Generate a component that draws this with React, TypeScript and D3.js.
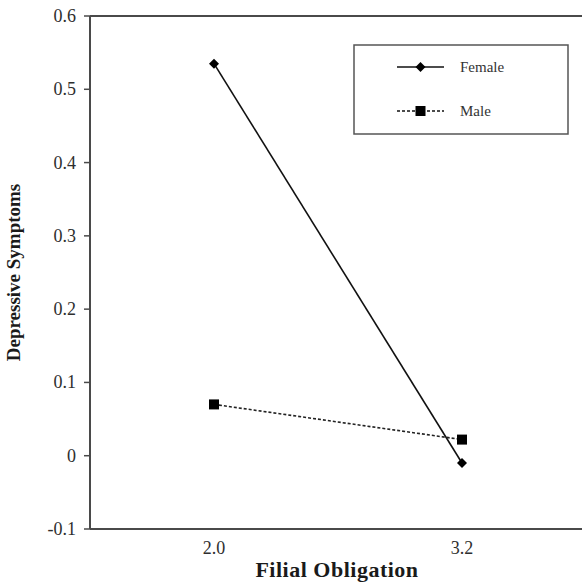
import * as d3 from "d3";

const categories = ["2.0", "3.2"];
const female = [0.535, -0.01];
const male = [0.07, 0.022];
const yTicks = [-0.1, 0, 0.1, 0.2, 0.3, 0.4, 0.5, 0.6];
const seriesNames = ["Female", "Male"];

const W = 582;
const H = 586;
const MARGIN = { top: 16, right: -4, bottom: 57, left: 90 };
const FONT = "'Liberation Serif', 'Times New Roman', serif";

export default function App() {
  const x = d3
    .scalePoint<string>()
    .domain(categories)
    .range([MARGIN.left, W - MARGIN.right])
    .padding(0.5);
  const y = d3.scaleLinear().domain([-0.1, 0.6]).range([H - MARGIN.bottom, MARGIN.top]);

  const line = d3
    .line<number>()
    .x((_, i) => x(categories[i]) as number)
    .y((d) => y(d));

  const axisColor = "#4a4a4a";

  const lx = 397;
  const lw = 47;
  const legendY = [67, 111];

  const diamond = (cx: number, cy: number, r: number) =>
    `M${cx},${cy - r}L${cx + r},${cy}L${cx},${cy + r}L${cx - r},${cy}Z`;

  return (
    <svg width={W} height={H} style={{ position: "absolute", left: 0, top: 0, background: "#fff" }}>
      {/* frame */}
      <line x1={MARGIN.left} x2={W + 10} y1={y(0.6)} y2={y(0.6)} stroke={axisColor} strokeWidth={2} />
      <line x1={MARGIN.left} x2={W + 10} y1={y(-0.1)} y2={y(-0.1)} stroke={axisColor} strokeWidth={2} />
      <line x1={MARGIN.left} x2={MARGIN.left} y1={y(0.6)} y2={y(-0.1)} stroke={axisColor} strokeWidth={2} />

      {yTicks.map((t) => (
        <g key={t}>
          <line x1={MARGIN.left - 6} x2={MARGIN.left} y1={y(t)} y2={y(t)} stroke={axisColor} strokeWidth={1.5} />
          <text
            x={MARGIN.left - 14}
            y={y(t) + 6}
            textAnchor="end"
            fontFamily={FONT}
            fontSize={18}
            fill="#2e2e2e"
          >
            {t === 0 ? "0" : t.toFixed(1)}
          </text>
        </g>
      ))}

      {categories.map((c) => (
        <text
          key={c}
          x={x(c)}
          y={H - MARGIN.bottom + 25}
          textAnchor="middle"
          fontFamily={FONT}
          fontSize={18}
          fill="#2e2e2e"
        >
          {c}
        </text>
      ))}

      {/* series */}
      <path d={line(female) || ""} fill="none" stroke="#111" strokeWidth={1.6} />
      <path d={line(male) || ""} fill="none" stroke="#222" strokeWidth={1.6} strokeDasharray="3,2" />
      {female.map((v, i) => (
        <path key={i} d={diamond(x(categories[i]) as number, y(v), 5)} fill="#000" />
      ))}
      {male.map((v, i) => (
        <rect key={i} x={(x(categories[i]) as number) - 5} y={y(v) - 5} width={10} height={10} fill="#000" />
      ))}

      {/* legend */}
      <rect x={354} y={45} width={214} height={89} fill="#fff" stroke="#555" strokeWidth={1.5} />
      {seriesNames.map((name, i) => (
        <g key={name}>
          <line
            x1={lx}
            x2={lx + lw}
            y1={legendY[i]}
            y2={legendY[i]}
            stroke="#111"
            strokeWidth={1.6}
            strokeDasharray={i === 1 ? "3,2" : undefined}
          />
          {i === 0 ? (
            <path d={diamond(lx + lw / 2, legendY[i], 5)} fill="#000" />
          ) : (
            <rect x={lx + lw / 2 - 5} y={legendY[i] - 5} width={10} height={10} fill="#000" />
          )}
          <text x={460} y={legendY[i] + 5} fontFamily={FONT} fontSize={15} fill="#333">
            {name}
          </text>
        </g>
      ))}

      {/* axis titles */}
      <text
        transform={`translate(20,${(y(0.6) + y(-0.1)) / 2}) rotate(-90)`}
        textAnchor="middle"
        fontFamily={FONT}
        fontSize={19}
        fontWeight="bold"
        fill="#1a1a1a"
      >
        Depressive Symptoms
      </text>
      <text
        x={337}
        y={577}
        textAnchor="middle"
        fontFamily={FONT}
        fontSize={22}
        fontWeight="bold"
        letterSpacing={0.5}
        fill="#1a1a1a"
      >
        Filial Obligation
      </text>
    </svg>
  );
}
